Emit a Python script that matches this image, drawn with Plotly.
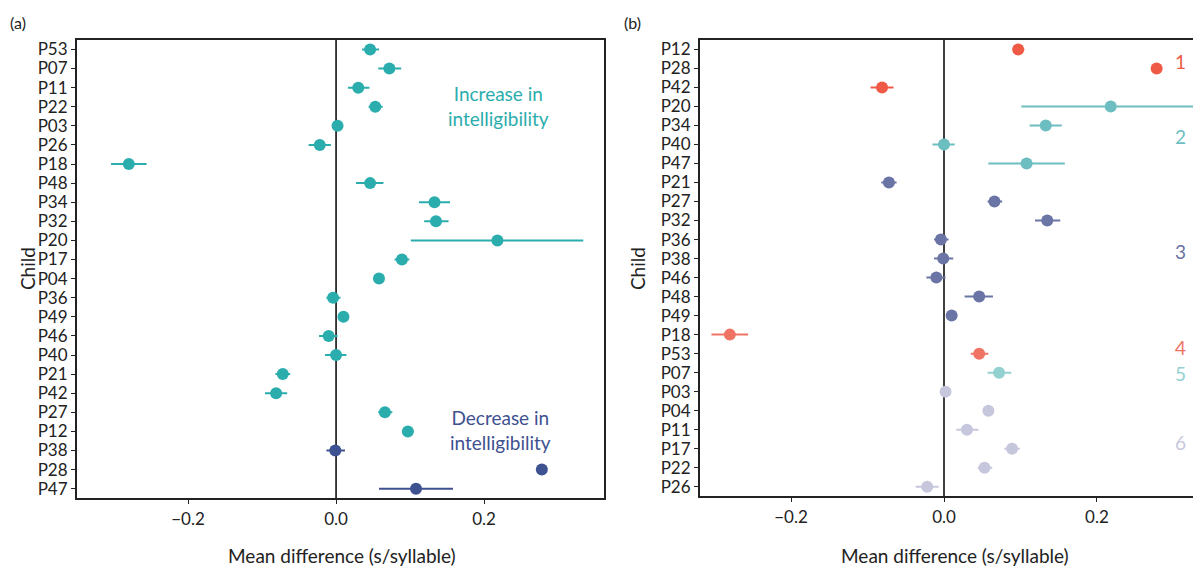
import plotly.graph_objects as go

# ---- data ----
children = ["P53", "P07", "P11", "P22", "P03", "P26", "P18", "P48", "P34", "P32", "P20", "P17",
            "P04", "P36", "P49", "P46", "P40", "P21", "P42", "P27", "P12", "P38", "P28", "P47"]
mean_diff = [0.046, 0.072, 0.030, 0.053, 0.002, -0.022, -0.280, 0.046, 0.133, 0.135, 0.218, 0.089,
             0.058, -0.004, 0.010, -0.010, 0.000, -0.072, -0.081, 0.066, 0.097, -0.001, 0.278, 0.108]
ci_low = [0.035, 0.057, 0.016, 0.044, -0.004, -0.037, -0.304, 0.027, 0.112, 0.119, 0.101, 0.079,
          0.054, -0.013, 0.006, -0.023, -0.015, -0.082, -0.096, 0.057, 0.090, -0.013, 0.278, 0.058]
ci_high = [0.058, 0.088, 0.045, 0.063, 0.008, -0.007, -0.256, 0.064, 0.154, 0.152, 0.334, 0.099,
           0.062, 0.006, 0.014, 0.002, 0.014, -0.062, -0.066, 0.076, 0.105, 0.012, 0.278, 0.158]
direction = ["Increase"] * 21 + ["Decrease"] * 3
cluster = [4, 5, 6, 6, 6, 6, 4, 3, 2, 3, 2, 6, 6, 3, 3, 3, 2, 3, 1, 3, 1, 3, 1, 2]

order_a = children[:]
order_b = ["P12", "P28", "P42", "P20", "P34", "P40", "P47", "P21", "P27", "P32", "P36", "P38",
           "P46", "P48", "P49", "P18", "P53", "P07", "P03", "P04", "P11", "P17", "P22", "P26"]

dir_colors = {"Increase": "#2BADAE", "Decrease": "#3E5190"}
cluster_colors = {1: "#EE5A45", 2: "#6CBEC1", 3: "#6A74A5", 4: "#EF7466", 5: "#93D1D0", 6: "#C6C7DC"}
cluster_label_y = {1: 60, 2: 135, 3: 250, 4: 347, 5: 373, 6: 442}

# page has an 8px body margin; figure fills the rest of the 1201x566 window
OFF = 8
W, H = 1201 - OFF, 566 - OFF
FONT = "Lato, 'Open Sans', sans-serif"

fig = go.Figure()


def add_points(idx, color, xa, ya):
    xs = [mean_diff[i] for i in idx]
    ys = [children[i] for i in idx]
    plus = [ci_high[i] - mean_diff[i] for i in idx]
    minus = [mean_diff[i] - ci_low[i] for i in idx]
    fig.add_trace(go.Scatter(
        x=xs, y=ys, mode="markers", xaxis=xa, yaxis=ya,
        marker=dict(color=color, size=12, line=dict(width=0)),
        error_x=dict(type="data", symmetric=False, array=plus, arrayminus=minus,
                     color=color, thickness=2, width=0),
        showlegend=False, cliponaxis=False))


for d in ["Increase", "Decrease"]:
    add_points([i for i in range(len(children)) if direction[i] == d], dir_colors[d], "x", "y")
for c in sorted(cluster_colors):
    add_points([i for i in range(len(children)) if cluster[i] == c], cluster_colors[c], "x2", "y2")

# zero lines
for xa, ya in [("x", "y domain"), ("x2", "y2 domain")]:
    fig.add_shape(type="line", xref=xa, yref=ya, x0=0, x1=0, y0=0, y1=1,
                  line=dict(color="black", width=1.5), layer="below")


def px(x):
    return (x - OFF) / W


def py(y):
    return 1 - (y - OFF) / H


axis_common = dict(showgrid=False, zeroline=False, showline=True, linecolor="#222", linewidth=2,
                   ticks="outside", ticklen=4, tickcolor="#222", tickwidth=1,
                   tickfont=dict(size=17, color="#222", family=FONT))

fig.update_layout(
    width=W, height=H, margin=dict(l=0, r=0, t=0, b=0),
    paper_bgcolor="white", plot_bgcolor="white",
    font=dict(family=FONT, color="#222"),
    xaxis=dict(domain=[px(77), px(604)], range=[-0.350, 0.362], mirror=True,
               tickvals=[-0.2, 0.0, 0.2], ticktext=["\u22120.2", "0.0", "0.2"], anchor="y",
               **axis_common),
    yaxis=dict(domain=[py(498), py(38)], type="category", categoryarray=order_a,
               tickmode="array", tickvals=order_a, ticktext=order_a,
               range=[23.5, -0.5], mirror=True, anchor="x", **axis_common),
    xaxis2=dict(domain=[px(700), 1.0], range=[-0.319, 0.336], mirror=True,
                tickvals=[-0.2, 0.0, 0.2], ticktext=["\u22120.2", "0.0", "0.2"], anchor="y2",
                **axis_common),
    yaxis2=dict(domain=[py(496), py(38)], type="category", categoryarray=order_b,
                tickmode="array", tickvals=order_b, ticktext=order_b,
                range=[23.5, -0.5], mirror=False, anchor="x2", **axis_common),
)

ann = []
# panel labels
ann.append(dict(text="(a)", x=px(8), y=py(21), xanchor="left", yanchor="middle", font=dict(size=16)))
ann.append(dict(text="(b)", x=px(622), y=py(21), xanchor="left", yanchor="middle", font=dict(size=16)))
# axis titles
for xc in [342, 955]:
    ann.append(dict(text="Mean difference (s/syllable)", x=px(xc), y=py(555), xanchor="center",
                    yanchor="middle", font=dict(size=19)))
for xc in [27, 637]:
    ann.append(dict(text="Child", x=px(xc), y=py(268), xanchor="center", yanchor="middle",
                    textangle=-90, font=dict(size=19)))
# direction texts
ann.append(dict(text="Increase in<br>intelligibility", x=px(498), y=py(104), xanchor="center",
                yanchor="middle", font=dict(size=19, color=dir_colors["Increase"]), align="center"))
ann.append(dict(text="Decrease in<br>intelligibility", x=px(500), y=py(430), xanchor="center",
                yanchor="middle", font=dict(size=19, color=dir_colors["Decrease"]), align="center"))
# cluster labels
for c, yy in cluster_label_y.items():
    ann.append(dict(text=str(c), x=px(1180), y=py(yy), xanchor="center", yanchor="middle",
                    font=dict(size=19, color=cluster_colors[c])))
for a in ann:
    a.update(xref="paper", yref="paper", showarrow=False)
fig.update_layout(annotations=ann)

fig.write_html("out.html")
